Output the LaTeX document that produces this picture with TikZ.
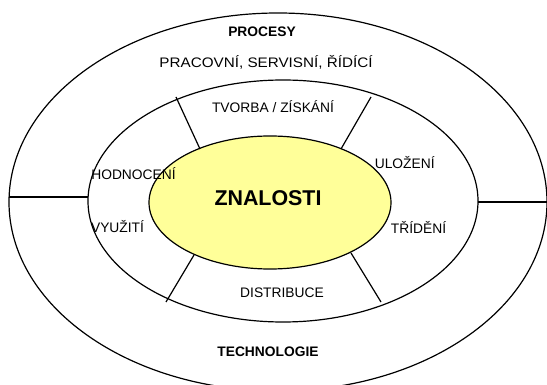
\documentclass[tikz,border=0pt]{standalone}
\usepackage{fontspec}
\setmainfont{Liberation Sans}
\definecolor{knowyellow}{HTML}{FFFF99}
\begin{document}
\begin{tikzpicture}[x=1pt,y=-1pt,
  ring/.style={draw=black,line width=1.2pt},
  divider/.style={draw=black,line width=1.2pt},
  lbl/.style={font=\fontsize{13.8pt}{16pt}\selectfont,anchor=base,inner sep=0pt,text=black},
  boldlbl/.style={font=\fontsize{13.8pt}{16pt}\selectfont\bfseries,anchor=base,inner sep=0pt,text=black},
  core/.style={font=\fontsize{21.4pt}{24pt}\selectfont\bfseries,anchor=base,inner sep=0pt,text=black}]
  \useasboundingbox (0,0) rectangle (547,385);
  \begin{scope}
    \clip (0,0) rectangle (547,385);
    % outer ring: processes and technology
    \draw[ring] (278,202) ellipse [x radius=269, y radius=189];
    % middle ring: knowledge activities
    \draw[ring] (283,201) ellipse [x radius=195, y radius=121];
    % core: knowledge
    \draw[ring,fill=knowyellow] (270,202.5) ellipse [x radius=121, y radius=66.5];
  \end{scope}

  % end points of the dividers
  \coordinate (ulOut) at (176,97);   \coordinate (ulIn) at (200,149);
  \coordinate (urOut) at (371,97);   \coordinate (urIn) at (341,149);
  \coordinate (llIn) at (194,255);   \coordinate (llOut) at (166,302);
  \coordinate (lrIn) at (351,253);   \coordinate (lrOut) at (381,302);
  \coordinate (lOut) at (9,197);     \coordinate (lIn) at (88,197);
  \coordinate (rIn) at (478,202);    \coordinate (rOut) at (547,202);

  \draw[divider] (ulOut) -- (ulIn);
  \draw[divider] (urOut) -- (urIn);
  \draw[divider] (llIn) -- (llOut);
  \draw[divider] (lrIn) -- (lrOut);
  \draw[divider] (lOut) -- (lIn);
  \draw[divider] (rIn) -- (rOut);

  % labels
  \node[boldlbl] (procesy) at (262,36.5) {PROCESY};
  \node[lbl] (druhy) at (266,68) {\scalebox{1.104}[1]{PRACOVNÍ, SERVISNÍ, ŘÍDÍCÍ}};
  \node[lbl] (tvorba) at (273,113) {TVORBA / ZÍSKÁNÍ};
  \node[lbl] (hodnoceni) at (133.5,180) {HODNOCENÍ};
  \node[lbl] (ulozeni) at (404.7,169) {ULOŽENÍ};
  \node[core] (znalosti) at (268,205.7) {ZNALOSTI};
  \node[lbl] (vyuziti) at (117.5,233) {VYUŽITÍ};
  \node[lbl] (trideni) at (418.5,234) {TŘÍDĚNÍ};
  \node[lbl] (distribuce) at (282,298) {DISTRIBUCE};
  \node[boldlbl] (technologie) at (268,356) {TECHNOLOGIE};
\end{tikzpicture}
\end{document}
